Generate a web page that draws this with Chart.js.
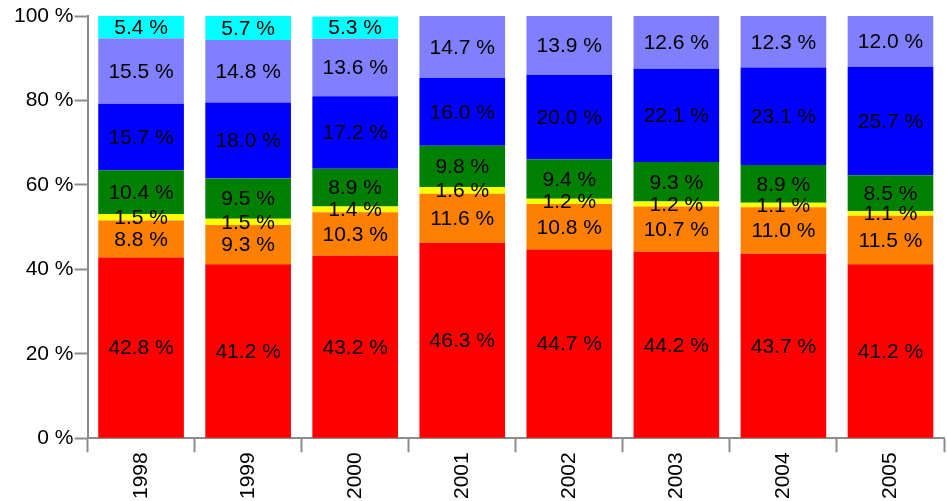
<!DOCTYPE html>
<html>
<head>
<meta charset="utf-8">
<script src="https://cdn.jsdelivr.net/npm/chart.js@4"></script>
<style>
  html, body { margin: 0; padding: 0; background: #fff; }
  #wrap { width: 947px; height: 501px; }
</style>
</head>
<body>
<div id="wrap"><canvas id="chart"></canvas></div>
<script>
// Chart data
var years = ["1998", "1999", "2000", "2001", "2002", "2003", "2004", "2005"];
var redData      = [42.8, 41.2, 43.2, 46.3, 44.7, 44.2, 43.7, 41.2];
var orangeData   = [8.8, 9.3, 10.3, 11.6, 10.8, 10.7, 11.0, 11.5];
var yellowData   = [1.5, 1.5, 1.4, 1.6, 1.2, 1.2, 1.1, 1.1];
var greenData    = [10.4, 9.5, 8.9, 9.8, 9.4, 9.3, 8.9, 8.5];
var blueData     = [15.7, 18.0, 17.2, 16.0, 20.0, 22.1, 23.1, 25.7];
var lavenderData = [15.5, 14.8, 13.6, 14.7, 13.9, 12.6, 12.3, 12.0];
var cyanData     = [5.4, 5.7, 5.3, 0, 0, 0, 0, 0];
var yTicks = [0, 20, 40, 60, 80, 100];

var axisGray = "#8c8c8c";
var fontName = "'Liberation Sans', Arial, sans-serif";

// draws the value in the middle of each segment
var segmentLabels = {
    id: "segmentLabels",
    afterDatasetsDraw: function(chart) {
        var ctx = chart.ctx;
        ctx.save();
        ctx.font = "21px " + fontName;
        ctx.fillStyle = "#000";
        ctx.textAlign = "center";
        ctx.textBaseline = "middle";
        chart.data.datasets.forEach(function(ds, i) {
            var meta = chart.getDatasetMeta(i);
            meta.data.forEach(function(bar, j) {
                var v = ds.data[j];
                if (!v) return;
                var top = Math.max(bar.y, chart.chartArea.top);
                var y = (top + bar.base) / 2;
                ctx.fillText(v.toFixed(1) + " %", bar.x, y + 1);
            });
        });
        ctx.restore();
    }
};

function makeSet(label, data, color) {
    return {
        label: label,
        data: data,
        backgroundColor: color,
        borderWidth: 0,
        barPercentage: 0.8,
        categoryPercentage: 1.0
    };
}

var chartData = {
    labels: years,
    datasets: [
        makeSet("red", redData, "#ff0000"),
        makeSet("orange", orangeData, "#ff8000"),
        makeSet("yellow", yellowData, "#ffff00"),
        makeSet("green", greenData, "#008000"),
        makeSet("blue", blueData, "#0000ff"),
        makeSet("lavender", lavenderData, "#8080ff"),
        makeSet("cyan", cyanData, "#00ffff")
    ]
};

var config = {
    type: "bar",
    data: chartData,
    plugins: [segmentLabels],
    options: {
        responsive: true,
        maintainAspectRatio: false,
        animation: false,
        layout: { padding: { left: 13, right: 3, top: 16, bottom: 2 } },
        plugins: {
            legend: { display: false },
            tooltip: { enabled: false }
        },
        scales: {
            x: {
                stacked: true,
                offset: true,
                border: { color: axisGray, width: 2 },
                grid: {
                    offset: true,
                    drawOnChartArea: false,
                    drawTicks: true,
                    tickLength: 14,
                    tickWidth: 2,
                    tickColor: axisGray
                },
                ticks: {
                    color: "#000",
                    font: { family: fontName, size: 21 },
                    minRotation: 90,
                    maxRotation: 90,
                    padding: 0
                }
            },
            y: {
                stacked: true,
                min: 0,
                max: 100,
                afterBuildTicks: function(axis) {
                    axis.ticks = yTicks.map(function(v) { return { value: v }; });
                },
                border: { color: axisGray, width: 2 },
                grid: {
                    drawOnChartArea: false,
                    drawTicks: true,
                    tickLength: 13,
                    tickWidth: 2,
                    tickColor: axisGray
                },
                ticks: {
                    color: "#000",
                    font: { family: fontName, size: 21 },
                    padding: 1,
                    callback: function(v) { return v + " %"; }
                }
            }
        }
    }
};

var barChart = new Chart(document.getElementById("chart"), config);
</script>
</body>
</html>
